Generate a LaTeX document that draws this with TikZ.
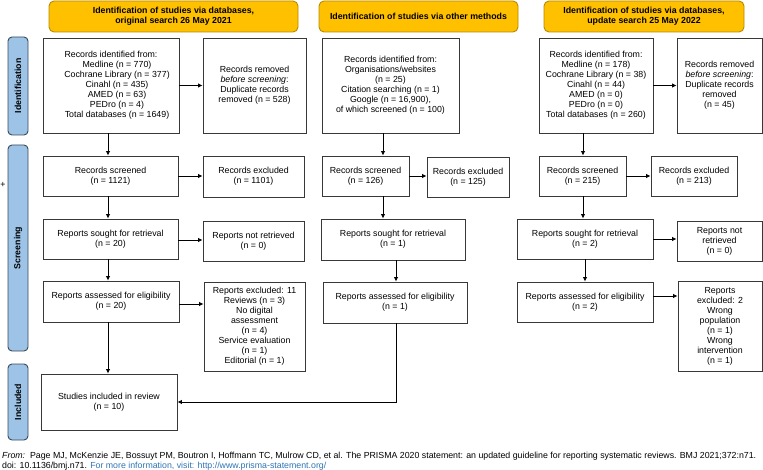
\documentclass[tikz,border=0pt]{standalone}
\usepackage{fontspec}
\setmainfont{Liberation Sans}
\usetikzlibrary{arrows.meta,calc}
\definecolor{hdr}{HTML}{FFC000}
\definecolor{hdrline}{HTML}{B88A00}
\definecolor{side}{HTML}{9DC3E6}
\definecolor{sideline}{HTML}{3A4A5C}
\definecolor{boxline}{HTML}{383838}
\definecolor{linkblue}{HTML}{2E74B5}
\newcommand\mkbox[7][box]{\node[#1, minimum width={(#5-#3)*1pt}, minimum height={(#6-#4)*1pt}] (#2) at ({(#3+#5)/2},{(#4+#6)/2}) {#7};}
\begin{document}
\begin{tikzpicture}[x=1pt,y=-1pt,
 txt/.style={font=\fontsize{8.8}{10}\selectfont},
 box/.style={txt, draw=boxline, line width=0.9pt, fill=white, align=center, inner sep=1pt},
 hdrbox/.style={txt, draw=hdrline, line width=0.9pt, fill=hdr, rounded corners=5pt, align=center, inner sep=1pt, font=\fontsize{8.8}{10}\selectfont\bfseries},
 sidebox/.style={draw=sideline, line width=0.9pt, fill=side, rounded corners=4pt, inner sep=0pt},
 sidetxt/.style={rotate=90, font=\fontsize{8.8}{10}\selectfont\bfseries, inner sep=0pt},
 foottxt/.style={anchor=base west, inner sep=0pt, font=\fontsize{8.8}{10}\selectfont},
 arr/.style={-{Latex[length=4.5pt,width=4.5pt]}, line width=0.8pt, draw=black},
]
\useasboundingbox (0,0) rectangle (763,470);
% headers
\mkbox[hdrbox]{h1}{49}{1}{298}{32}{Identification of studies via databases,\\ original search 26 May 2021}
\mkbox[hdrbox]{h2}{319}{1}{518}{32}{Identification of studies via other methods}
\mkbox[hdrbox]{h3}{544}{1}{744}{32}{Identification of studies via databases,\\ update search 25 May 2022}
% side bars
\mkbox[sidebox]{s1}{8}{37}{28}{135}{}
\mkbox[sidebox]{s2}{8}{145}{28}{351}{}
\mkbox[sidebox]{s3}{8}{364}{28}{440}{}
\node[sidetxt] (s1t) at (s1.center) {Identification};
\node[sidetxt] (s2t) at (s2.center) {Screening};
\node[sidetxt] (s3t) at (s3.center) {Included};
\node[txt, inner sep=0pt] (plus) at (3,185) {+};
% column 1
\mkbox{id1}{43}{38}{179}{133}{Records identified from:\\ \hspace*{12pt}Medline (n = 770)\\ \hspace*{12pt}Cochrane Library (n = 377)\\ \hspace*{12pt}Cinahl (n = 435)\\ \hspace*{12pt}AMED (n = 63)\\ \hspace*{12pt}PEDro (n = 4)\\ \hspace*{12pt}Total databases (n = 1649)}
\mkbox{rem1}{203}{38}{306}{133}{Records removed\\ \textit{before screening}:\\ Duplicate records\\ removed (n = 528)}
\mkbox{scr1}{43}{156}{178}{196}{Records screened\\ (n = 1121)}
\mkbox{exc1}{203}{156}{304}{197}{Records excluded\\ (n = 1101)}
\mkbox{sou1}{43}{219}{178}{259}{Reports sought for retrieval\\ (n = 20)}
\mkbox{nr1}{203}{221}{304}{261}{Reports not retrieved\\ (n = 0)}
\mkbox{ass1}{43}{281}{179}{322}{Reports assessed for eligibility\\ (n = 20)}
\mkbox{ex1}{204}{282}{305}{371}{Reports excluded: 11\\ Reviews (n = 3)\\ No digital\\ assessment\\ (n = 4)\\ Service evaluation\\ (n = 1)\\ Editorial (n = 1)}
\mkbox{inc}{41}{374}{177}{430}{Studies included in review\\ (n = 10)}
% column 2
\mkbox{id2}{322}{38}{459}{133}{Records identified from:\\ Organisations/websites\\ (n = 25)\\ Citation searching (n = 1)\\ Google (n = 16,900),\\ of which screened (n = 100)}
\mkbox{scr2}{322}{156}{409}{196}{Records screened\\ (n = 126)}
\mkbox{exc2}{427}{157}{509}{197}{Records excluded\\ (n = 125)}
\mkbox{sou2}{321}{219}{465}{260}{Reports sought for retrieval\\ (n = 1)}
\mkbox{ass2}{323}{282}{467}{323}{Reports assessed for eligibility\\ (n = 1)}
% column 3
\mkbox{id3}{539}{38}{653}{133}{Records identified from:\\ Medline (n = 178)\\ Cochrane Library (n = 38)\\ Cinahl (n = 44)\\ AMED (n = 0)\\ PEDro (n = 0)\\ Total databases (n = 260)}
\mkbox{rem3}{677}{38}{762}{133}{Records removed\\ \textit{before screening}:\\ Duplicate records\\ removed\\ (n = 45)}
\mkbox{scr3}{539}{156}{626}{196}{Records screened\\ (n = 215)}
\mkbox{exc3}{651}{156}{737}{196}{Records excluded\\ (n = 213)}
\mkbox{sou3}{517}{219}{653}{259}{Reports sought for retrieval\\ (n = 2)}
\mkbox{nr3}{677}{221}{762}{261}{Reports not\\ retrieved\\ (n = 0)}
\mkbox{ass3}{517}{282}{653}{322}{Reports assessed for eligibility\\ (n = 2)}
\mkbox{ex3}{678}{281}{762}{371}{Reports\\ excluded: 2\\ Wrong\\ population\\ (n = 1)\\ Wrong\\ intervention\\ (n = 1)}
% helper coordinates
\coordinate (c1) at (108,0);
\coordinate (c2a) at (383,0);
\coordinate (c2b) at (396,0);
\coordinate (c3a) at (583,0);
\coordinate (c3b) at (585,0);
% arrows column 1
\draw[arr] (c1 |- id1.south) -- (c1 |- scr1.north);
\draw[arr] (c1 |- scr1.south) -- (c1 |- sou1.north);
\draw[arr] (c1 |- sou1.south) -- (c1 |- ass1.north);
\draw[arr] (c1 |- ass1.south) -- (c1 |- inc.north);
\draw[arr] (id1.east) -- (id1.east -| rem1.west);
\draw[arr] (scr1.east) -- (scr1.east -| exc1.west);
\draw[arr] ([yshift=-1pt]sou1.east) -- ([yshift=-1pt]sou1.east -| nr1.west);
\draw[arr] ([yshift=-2.5pt]ass1.east) -- ([yshift=-2.5pt]ass1.east -| ex1.west);
% arrows column 2
\draw[arr] (c2a |- id2.south) -- (c2a |- scr2.north);
\draw[arr] (c2a |- scr2.south) -- (c2a |- sou2.north);
\draw[arr] (c2b |- sou2.south) -- (c2b |- ass2.north);
\draw[arr] (scr2.east) -- (scr2.east -| exc2.west);
\draw[arr] (c2b |- ass2.south) |- (inc.east);
% arrows column 3
\draw[arr] (c3a |- id3.south) -- (c3a |- scr3.north);
\draw[arr] (c3a |- scr3.south) -- (c3a |- sou3.north);
\draw[arr] (c3b |- sou3.south) -- (c3b |- ass3.north);
\draw[arr] (id3.east) -- (id3.east -| rem3.west);
\draw[arr] (scr3.east) -- (scr3.east -| exc3.west);
\draw[arr] (sou3.east) -- (sou3.east -| nr3.west);
\draw[arr] ([yshift=6pt]ass3.east) -- ([yshift=6pt]ass3.east -| ex3.west);
% footer
\node[foottxt] (foot1) at (2,458) {\textit{From:}\ \ Page MJ, McKenzie JE, Bossuyt PM, Boutron I, Hoffmann TC, Mulrow CD, et al. The PRISMA 2020 statement: an updated guideline for reporting systematic reviews. BMJ 2021;372:n71.};
\node[foottxt] (foot2) at (2,468) {doi: 10.1136/bmj.n71. \textcolor{linkblue}{For more information, visit:} \textcolor{linkblue}{\underline{http://www.prisma-statement.org/}}};
\end{tikzpicture}
\end{document}
